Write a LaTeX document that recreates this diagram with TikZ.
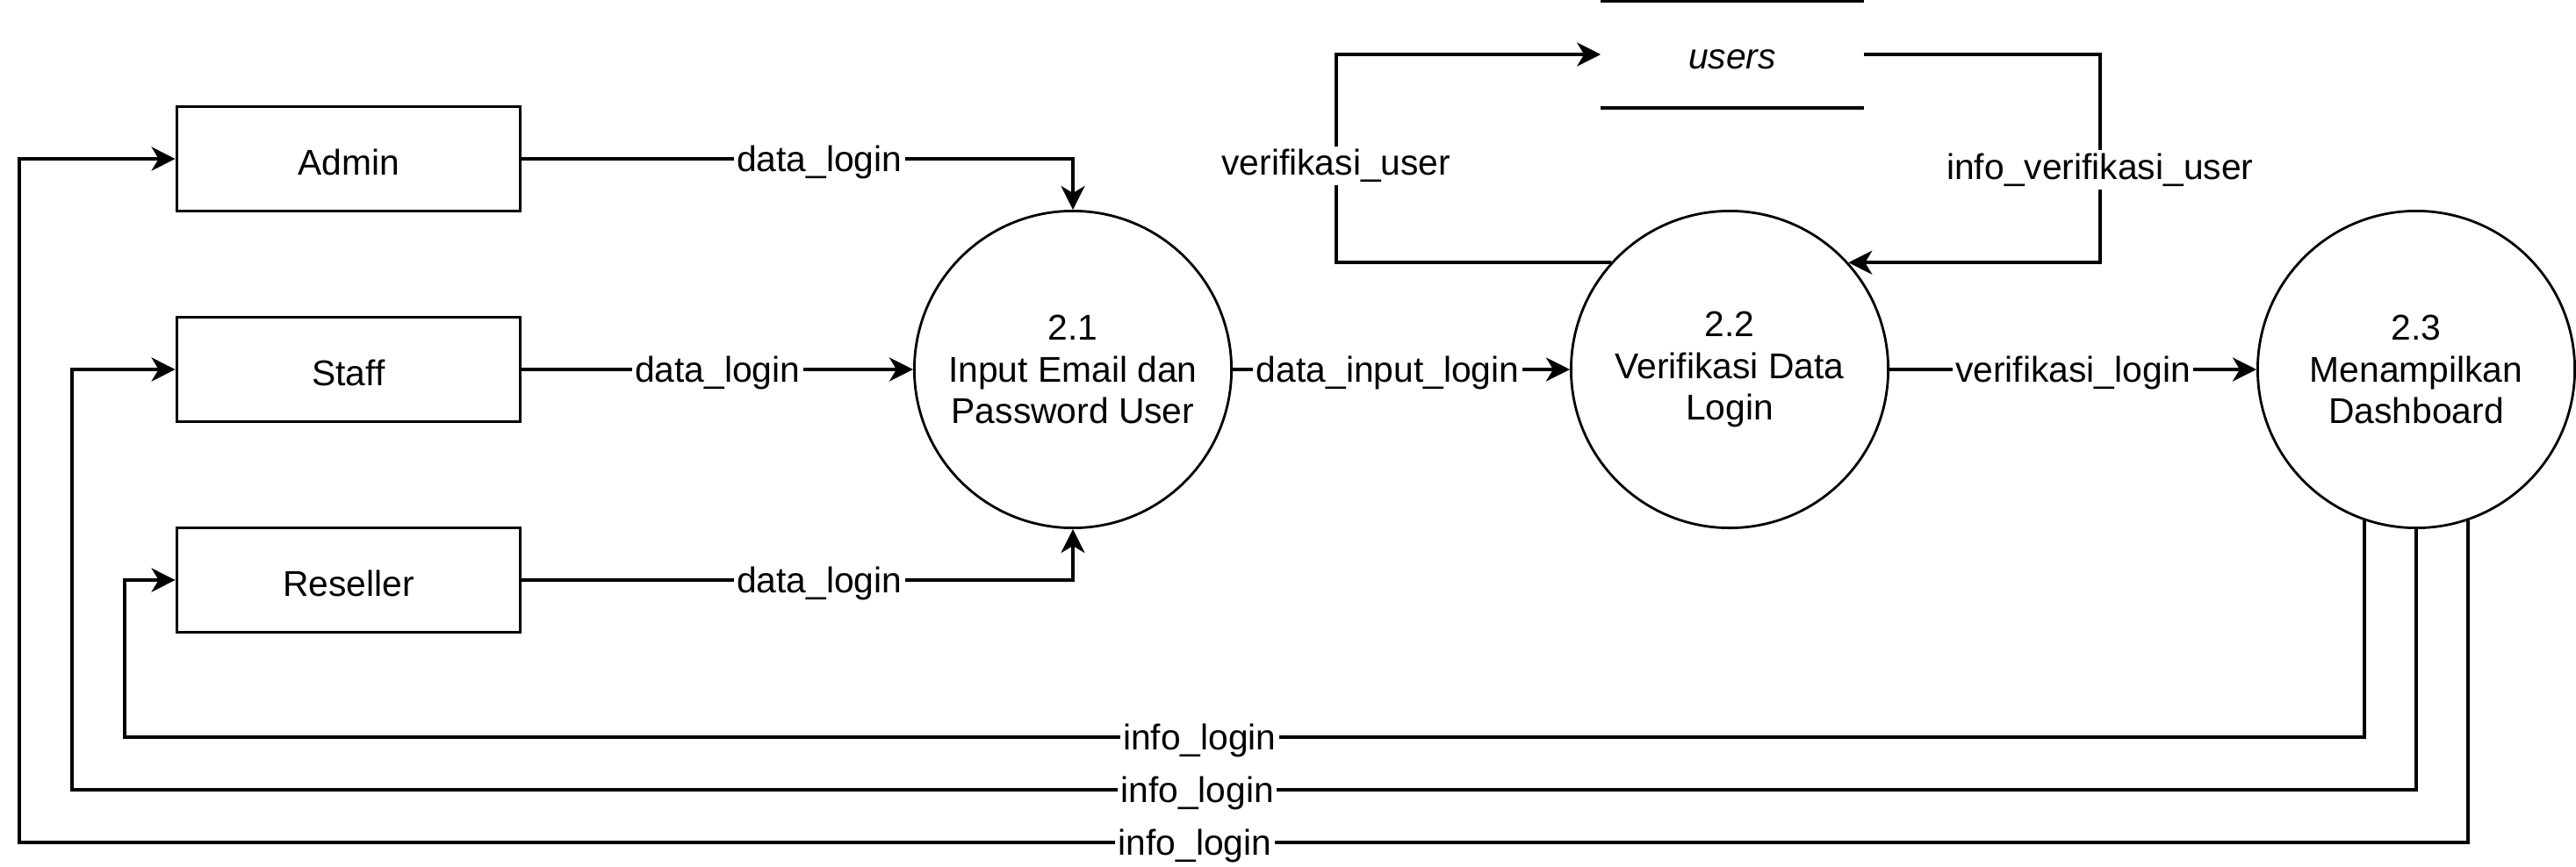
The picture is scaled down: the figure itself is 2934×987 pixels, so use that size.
\documentclass[tikz,border=0pt]{standalone}
\usepackage{fontspec}
\setmainfont{Liberation Sans}
\usetikzlibrary{arrows.meta}

\begin{document}
\begin{tikzpicture}
  [x=0.01cm, y=-0.01cm,
   every node/.style={font=\fontsize{11.6pt}{13.4pt}\selectfont},
   entity/.style={draw, line width=1pt, minimum width=3.91cm, minimum height=1.19cm, text height=10.4pt, text depth=0pt},
   process/.style={draw, circle, line width=0.8pt, minimum size=3.61cm, align=center, inner sep=0pt, execute at begin node={\rule{0pt}{11.8pt}}},
   store/.style={minimum width=2.98cm, minimum height=1.21cm, text height=9.2pt, text depth=0pt, font=\fontsize{11.6pt}{13.4pt}\selectfont\itshape},
   flow/.style={line width=1.1pt, -{Stealth[length=2.7mm, width=2.7mm, inset=0.8mm]}},
   lbl/.style={fill=white, inner sep=1pt, yshift=-1pt}]
  \useasboundingbox (0,0) rectangle (2934,987);

  \node [entity] (admin) at (397,181) {Admin};
  \node [entity] (staff) at (397,421) {Staff};
  \node [entity] (reseller) at (397,661) {Reseller};

  \node [process] (p21) at (1222,421) {2.1\\Input Email dan\\Password User};
  \node [process] (p22) at (1970,421) {2.2\\Verifikasi Data\\Login};
  \node [process] (p23) at (2752,421) {2.3\\Menampilkan\\Dashboard};

  \node [store] (users) at (1973,62) {users};
  \draw [line width=1pt] (users.north west) -- (users.north east)
        (users.south west) -- (users.south east);

  \draw [flow] (admin.east) -| (p21.north) node [lbl, pos=0.27] {data\_login};
  \draw [flow] (staff.east) -- (p21.west) node [lbl, midway] {data\_login};
  \draw [flow] (reseller.east) -| (p21.south) node [lbl, pos=0.27] {data\_login};
  \draw [flow] (p21.east) -- (p22.west) node [lbl, pos=0.46] {data\_input\_login};
  \draw [flow] (p22.east) -- (p23.west) node [lbl, midway] {verifikasi\_login};

  \draw [flow] (p22.138) -- ++(-313,0) |- (users.west) node [lbl, pos=0.24] {verifikasi\_user};
  \draw [flow] (users.east) -- ++(269,0) |- (p22.42) node [lbl, pos=0.27] {info\_verifikasi\_user};

  \draw [flow] (p23.251) |- (142,840) node [lbl, pos=0.76] {info\_login} |- (reseller.west);
  \draw [flow] (p23.south) |- (82,900) node [lbl, pos=0.76] {info\_login} |- (staff.west);
  \draw [flow] (p23.289) |- (22,960) node [lbl, pos=0.76] {info\_login} |- (admin.west);
\end{tikzpicture}
\end{document}
